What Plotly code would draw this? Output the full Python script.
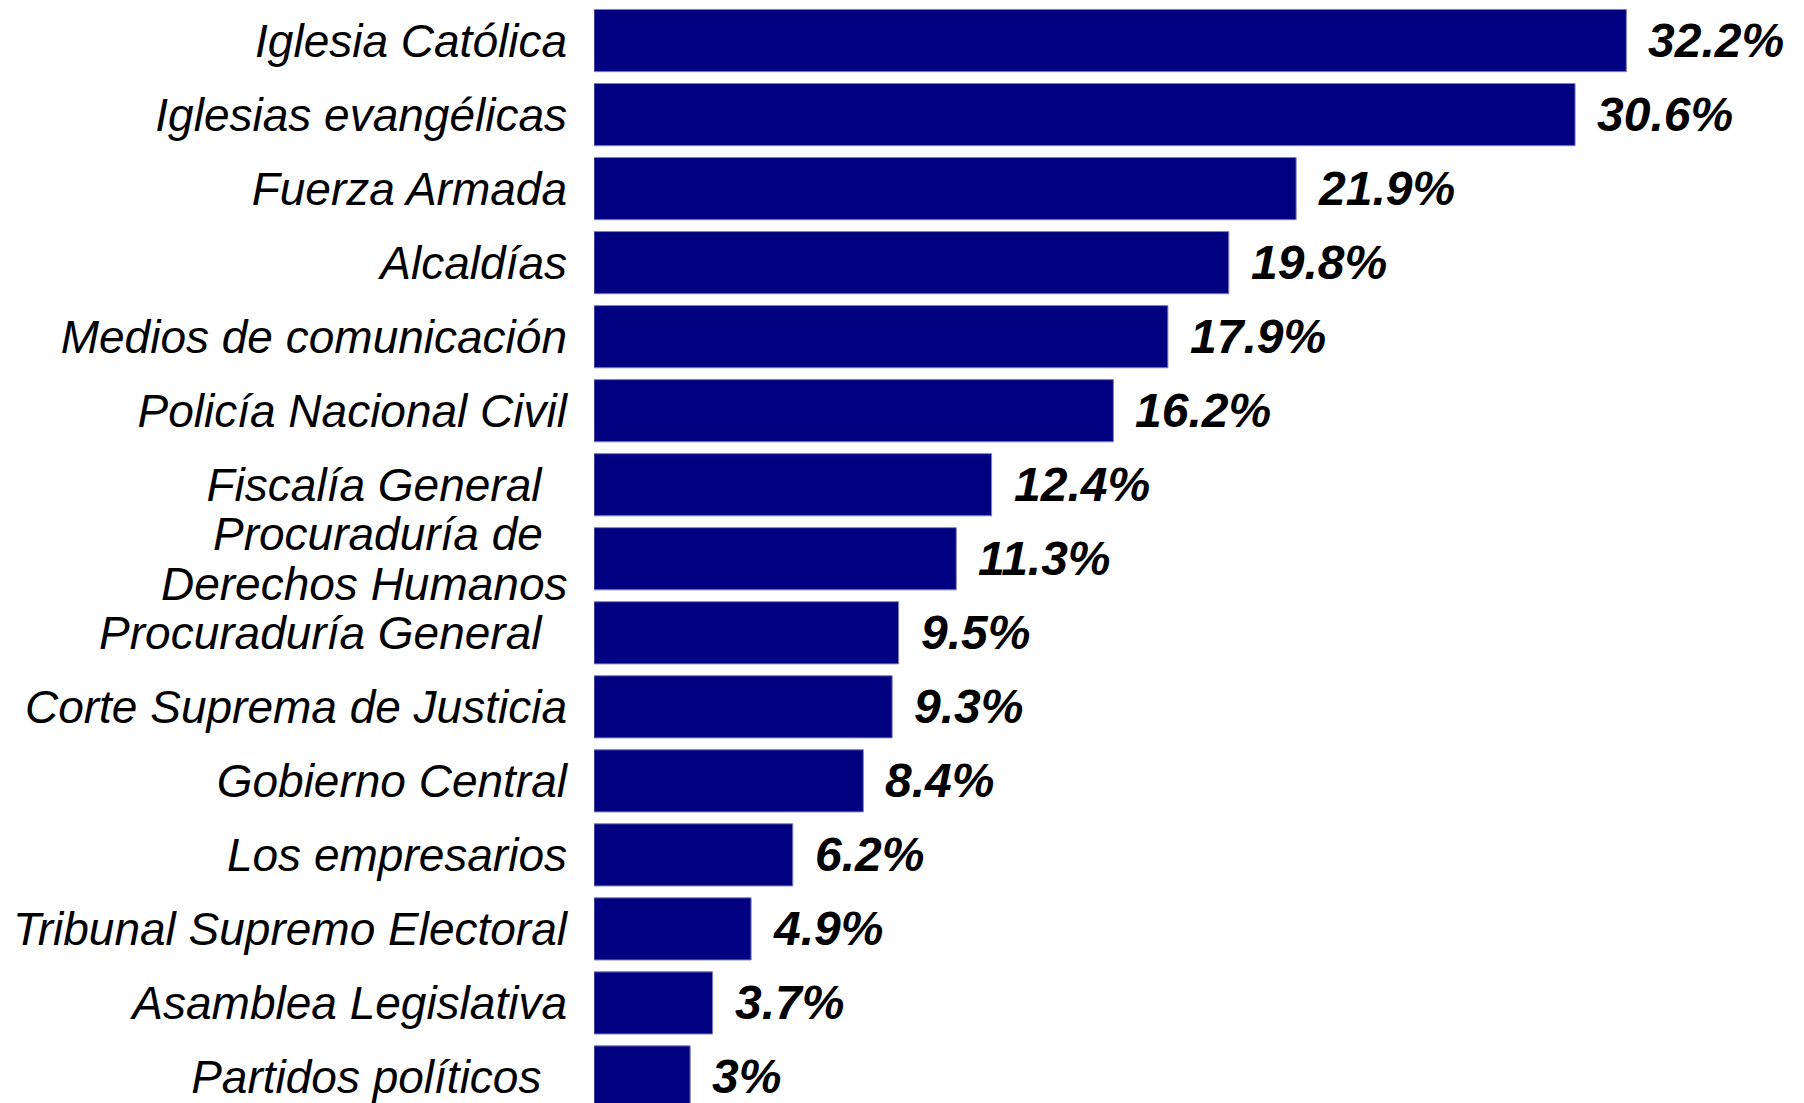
import plotly.graph_objects as go

categories = [
    "Iglesia Católica",
    "Iglesias evangélicas",
    "Fuerza Armada",
    "Alcaldías",
    "Medios de comunicación",
    "Policía Nacional Civil",
    "Fiscalía General",
    "Procuraduría de Derechos Humanos",
    "Procuraduría General",
    "Corte Suprema de Justicia",
    "Gobierno Central",
    "Los empresarios",
    "Tribunal Supremo Electoral",
    "Asamblea Legislativa",
    "Partidos políticos",
]
# tick labels as shown (the two-line label is drawn line by line below)
tick_labels = [
    "Iglesia Católica",
    "Iglesias evangélicas",
    "Fuerza Armada",
    "Alcaldías",
    "Medios de comunicación",
    "Policía Nacional Civil",
    "Fiscalía General\u00a0\u00a0",
    "",
    "Procuraduría General\u00a0\u00a0",
    "Corte Suprema de Justicia",
    "Gobierno Central",
    "Los empresarios",
    "Tribunal Supremo Electoral",
    "Asamblea Legislativa",
    "Partidos políticos\u00a0\u00a0",
]
two_line_category = "Procuraduría de Derechos Humanos"
two_line_label = ["Procuraduría de\u00a0\u00a0", "Derechos Humanos"]

values = [32.2, 30.6, 21.9, 19.8, 17.9, 16.2, 12.4, 11.3, 9.5, 9.3, 8.4, 6.2, 4.9, 3.7, 3.0]
value_labels = ["32.2%", "30.6%", "21.9%", "19.8%", "17.9%", "16.2%", "12.4%", "11.3%",
                "9.5%", "9.3%", "8.4%", "6.2%", "4.9%", "3.7%", "3%"]

FONT = "Liberation Sans, Arial, sans-serif"
LABEL_FONT = dict(family=FONT, size=46, color="black", style="italic")

fig = go.Figure()
fig.add_trace(go.Bar(
    x=values,
    y=categories,
    orientation="h",
    width=0.84,
    marker=dict(color="#000080", line=dict(color="#7f7fbf", width=1)),
    hoverinfo="skip",
))

for v, c, t in zip(values, categories, value_labels):
    fig.add_annotation(
        x=v, y=c, text=t, showarrow=False,
        xanchor="left", yanchor="middle", xshift=20,
        font=dict(family=FONT, size=48, color="black", style="italic", weight="bold"),
    )

for line, dy in zip(two_line_label, [25, -25]):
    fig.add_annotation(
        xref="paper", x=0, y=two_line_category, text=line, showarrow=False,
        xanchor="right", yanchor="middle", xshift=-24, yshift=dy,
        font=LABEL_FONT,
    )

fig.update_layout(
    width=1804, height=1103,
    margin=dict(l=586, r=0, t=0, b=0, autoexpand=False),
    paper_bgcolor="white", plot_bgcolor="white",
    showlegend=False,
    xaxis=dict(range=[0, 37.99], visible=False, fixedrange=True),
    yaxis=dict(
        type="category",
        categoryorder="array", categoryarray=categories,
        range=[14.46, -0.44],
        tickmode="array", tickvals=categories, ticktext=tick_labels,
        tickfont=LABEL_FONT,
        ticks="", showline=False, showgrid=False, zeroline=False,
        ticklabelstandoff=26, automargin=False,
    ),
)

fig.write_html("out.html")
